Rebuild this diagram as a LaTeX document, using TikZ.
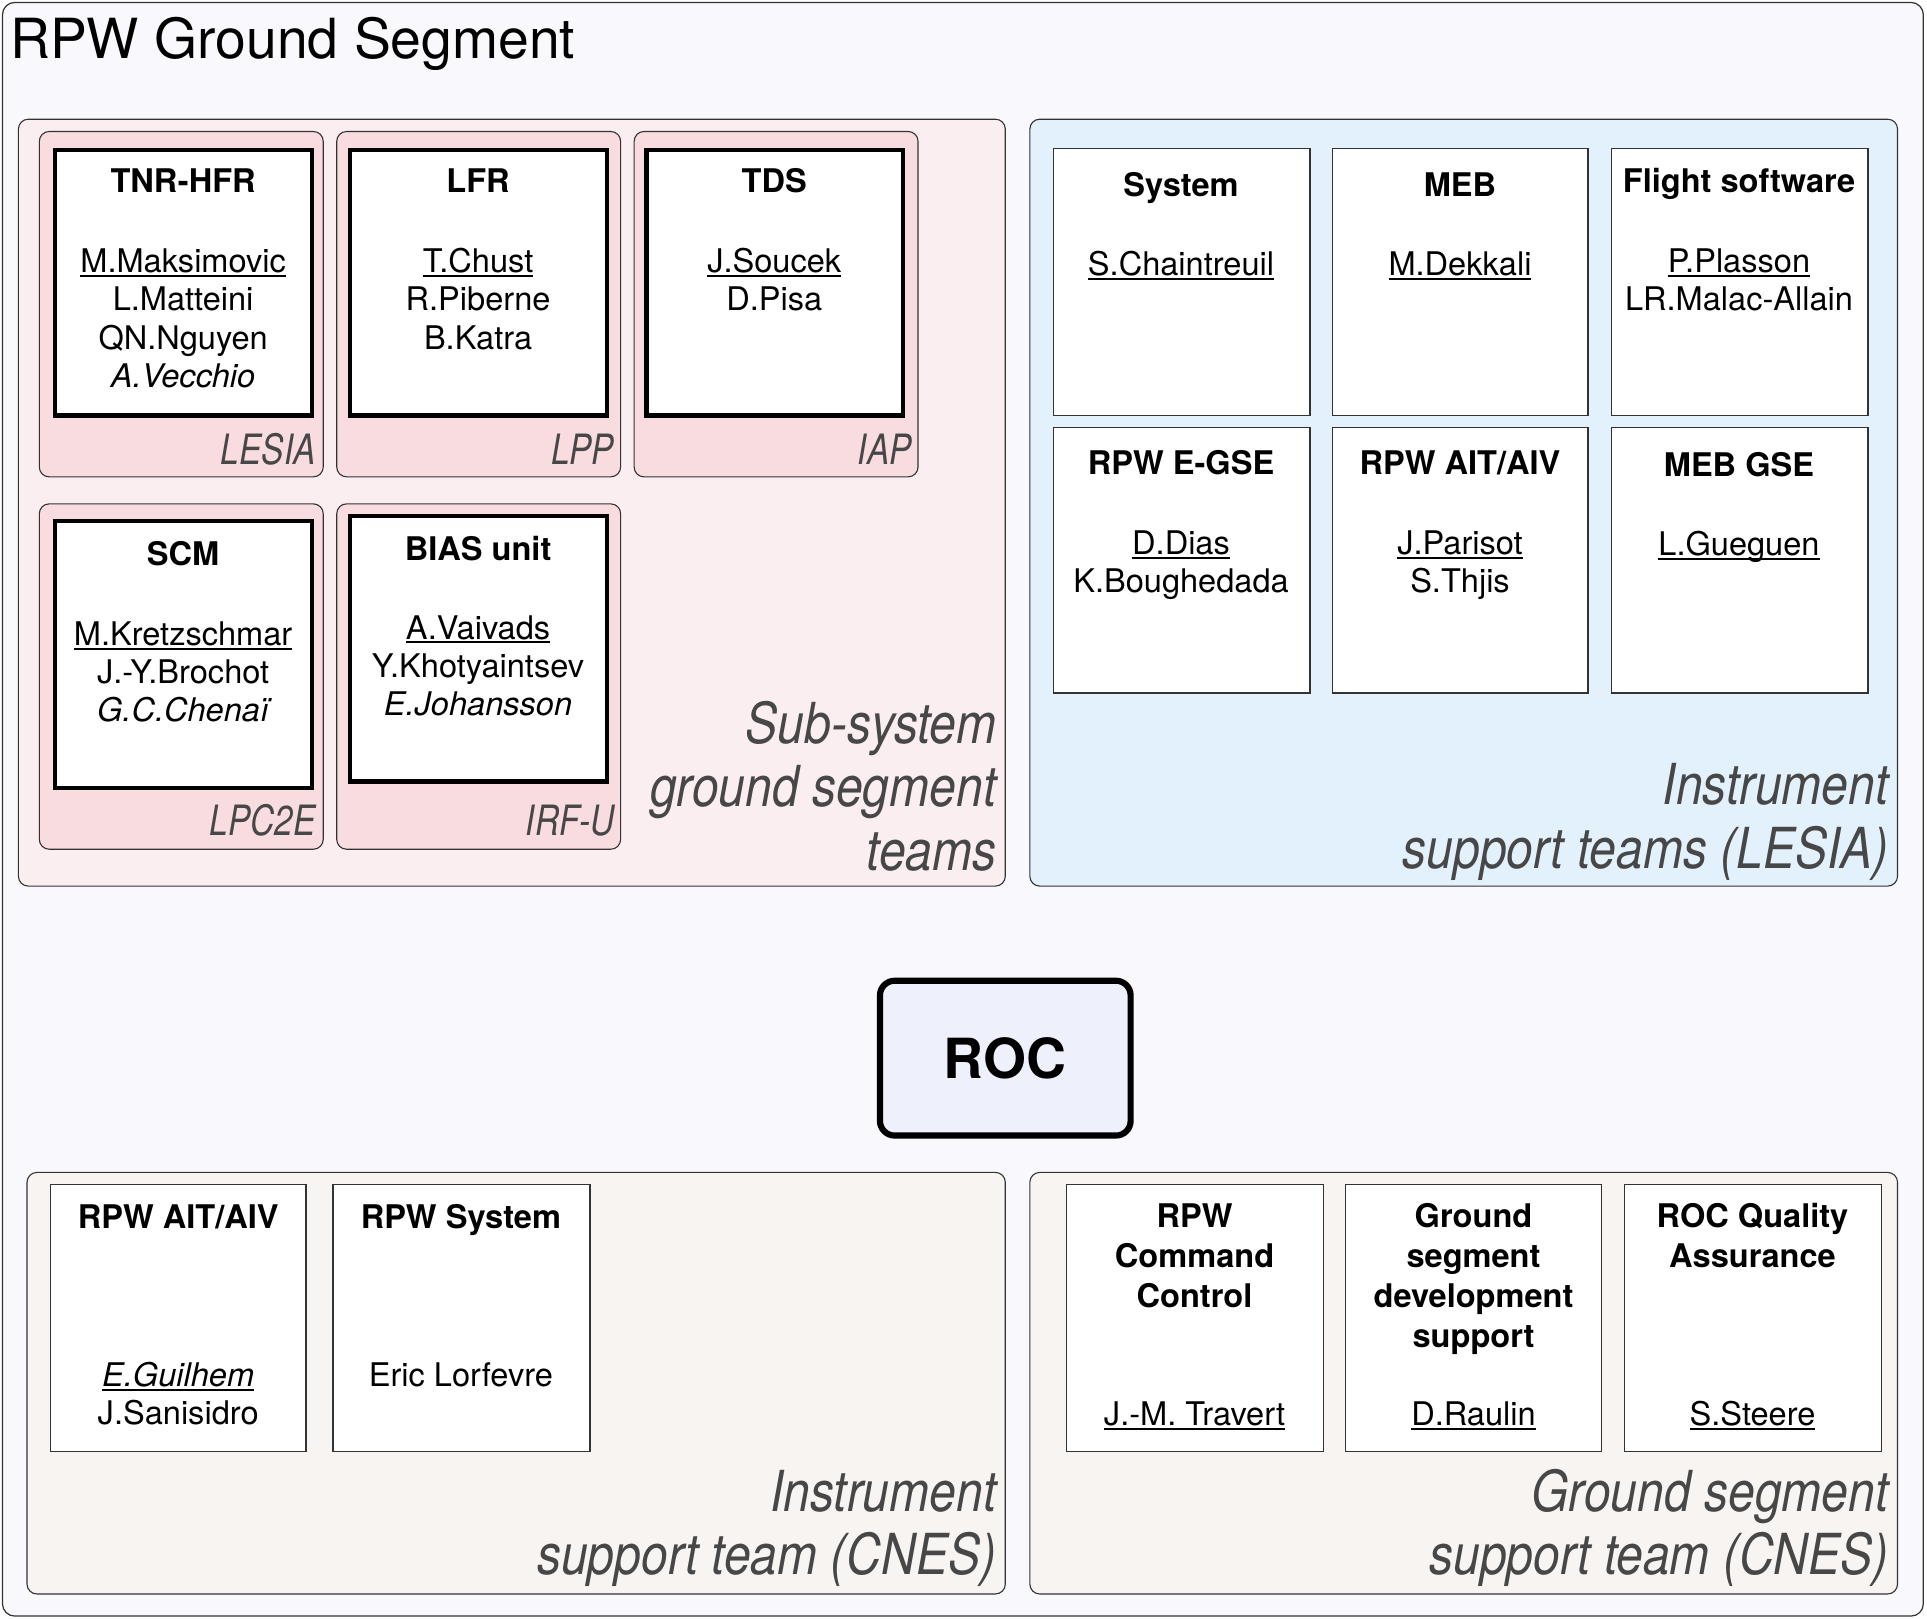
\documentclass[tikz,border=0pt]{standalone}
\usepackage{fontspec}
\setmainfont{TeX Gyre Heros}
\usetikzlibrary{fit}
\definecolor{bgout}{HTML}{F9F9FD}
\definecolor{subgrp}{HTML}{FBEEF1}
\definecolor{labgrp}{HTML}{F9DCDF}
\definecolor{bluegrp}{HTML}{E3F1FD}
\definecolor{beigegrp}{HTML}{F8F4F2}
\definecolor{rocfill}{HTML}{EEF0FC}
\definecolor{edge}{HTML}{333333}
\newcommand\uname[1]{\setbox0\hbox{#1}\rlap{\rule[-3.5pt]{\wd0}{1.6pt}}\box0}
\newcommand\rows[1]{\begin{tabular}[t]{@{}c@{}}#1\end{tabular}}
\newcommand\rrows[1]{\begin{tabular}[t]{@{}r@{}}#1\end{tabular}}
\tikzset{
  outerbox/.style={draw=edge, line width=1pt, fill=bgout, rounded corners=10pt, inner sep=0pt},
  grp/.style={draw=edge, line width=0.9pt, rounded corners=8pt, inner sep=0pt},
  thickbox/.style={draw=black, line width=3.5pt, fill=white, inner sep=0pt},
  thinbox/.style={draw=edge, line width=1.1pt, fill=white, inner sep=0pt},
  btitle/.style={font=\fontsize{26.5}{32.5}\selectfont\bfseries, inner sep=0pt, anchor=base},
  bname/.style={font=\fontsize{26.5}{31}\selectfont, inner sep=0pt, anchor=base},
  lablabel/.style={font=\fontsize{34}{40}\selectfont\itshape, xscale=0.8, inner sep=0pt, anchor=base east, text=black!72},
  biglabel/.style={font=\fontsize{46}{51.5}\selectfont\itshape, xscale=0.85, inner sep=0pt, anchor=base east, text=black!72},
}
\begin{document}
\begin{tikzpicture}[x=1pt, y=-1pt]
\path[use as bounding box] (0,0) rectangle (1568,1317);
% outer frame
\node[outerbox, fit={(2,2) (1565,1315)}] (outer) {};
\node[anchor=base west, font=\fontsize{45}{50}\selectfont, inner sep=0pt] (title) at (8,48) {RPW Ground Segment};

% ---------- Sub-system ground segment teams ----------
\node[grp, fill=subgrp, fit={(15,97) (818,721)}] (subsys) {};
\node[grp, fill=labgrp, fit={(32,107) (263,388)}] (lesia) {};
\node[grp, fill=labgrp, fit={(274,107) (505,388)}] (lpp) {};
\node[grp, fill=labgrp, fit={(516,107) (747,388)}] (iap) {};
\node[grp, fill=labgrp, fit={(32,410) (263,691)}] (lpc2e) {};
\node[grp, fill=labgrp, fit={(274,410) (505,691)}] (irfu) {};

\node[thickbox, fit={(45,122) (254,338)}] (tnr) {};
\node[thickbox, fit={(285,122) (494,338)}] (lfr) {};
\node[thickbox, fit={(526,122) (735,338)}] (tds) {};
\node[thickbox, fit={(45,424) (254,641)}] (scm) {};
\node[thickbox, fit={(285,420) (494,636)}] (bias) {};

\node[btitle] (tnrT) at (149,157) {TNR-HFR};
\node[bname] (tnrN) at (149,222) {\rows{\uname{M.Maksimovic}\\ L.Matteini\\ QN.Nguyen\\ \itshape A.Vecchio}};
\node[btitle] (lfrT) at (389,157) {LFR};
\node[bname] (lfrN) at (389,222) {\rows{\uname{T.Chust}\\ R.Piberne\\ B.Katra}};
\node[btitle] (tdsT) at (630,157) {TDS};
\node[bname] (tdsN) at (630,222) {\rows{\uname{J.Soucek}\\ D.Pisa}};
\node[btitle] (scmT) at (149,460) {SCM};
\node[bname] (scmN) at (149,525) {\rows{\uname{M.Kretzschmar}\\ J.-Y.Brochot\\ \itshape G.C.Chenaï}};
\node[btitle] (biasT) at (389,456) {BIAS unit};
\node[bname] (biasN) at (389,520) {\rows{\uname{A.Vaivads}\\ Y.Khotyaintsev\\ \itshape E.Johansson}};

\node[lablabel] (lesiaL) at (257,378) {LESIA};
\node[lablabel] (lppL) at (500,378) {LPP};
\node[lablabel] (iapL) at (742,378) {IAP};
\node[lablabel] (lpc2eL) at (257,680) {LPC2E};
\node[lablabel] (irfuL) at (500,680) {IRF-U};

\node[biglabel] (subsysL) at (811,605) {\rrows{Sub-system\\ ground segment\\ teams}};

% ---------- Instrument support teams (LESIA) ----------
\node[grp, fill=bluegrp, fit={(838,97) (1544,721)}] (lesiagrp) {};
\node[thinbox, fit={(857,121) (1066,338)}] (sys) {};
\node[thinbox, fit={(1084,121) (1292,338)}] (meb) {};
\node[thinbox, fit={(1311,121) (1520,338)}] (fsw) {};
\node[thinbox, fit={(857,348) (1066,564)}] (egse) {};
\node[thinbox, fit={(1084,348) (1292,564)}] (ait) {};
\node[thinbox, fit={(1311,348) (1520,564)}] (mebgse) {};

\node[btitle] (sysT) at (961,160) {System};
\node[bname] (sysN) at (961,224) {\uname{S.Chaintreuil}};
\node[btitle] (mebT) at (1188,160) {MEB};
\node[bname] (mebN) at (1188,224) {\uname{M.Dekkali}};
\node[btitle] (fswT) at (1415,157) {Flight software};
\node[bname] (fswN) at (1415,222) {\rows{\uname{P.Plasson}\\ LR.Malac-Allain}};
\node[btitle] (egseT) at (961,386) {RPW E-GSE};
\node[bname] (egseN) at (961,451) {\rows{\uname{D.Dias}\\ K.Boughedada}};
\node[btitle] (aitT) at (1188,386) {RPW AIT/AIV};
\node[bname] (aitN) at (1188,451) {\rows{\uname{J.Parisot}\\ S.Thjis}};
\node[btitle] (mebgseT) at (1415,388) {MEB GSE};
\node[bname] (mebgseN) at (1415,452) {\uname{L.Gueguen}};

\node[biglabel] (lesiagrpL) at (1537,655) {\rrows{Instrument\\ support teams (LESIA)}};

% ---------- ROC ----------
\node[draw=black, line width=5pt, fill=rocfill, rounded corners=12pt, inner sep=0pt,
      minimum width=204pt, minimum height=126pt,
      font=\fontsize{45}{50}\selectfont\bfseries] (roc) at (818,861) {ROC};

% ---------- Instrument support team (CNES) ----------
\node[grp, fill=beigegrp, fit={(22,954) (818,1297)}] (cnesinst) {};
\node[thinbox, fit={(41,964) (249,1181)}] (cait) {};
\node[thinbox, fit={(271,964) (480,1181)}] (csys) {};
\node[btitle] (caitT) at (145,1000) {RPW AIT/AIV};
\node[bname] (caitN) at (145,1128) {\rows{\uname{\itshape E.Guilhem}\\ J.Sanisidro}};
\node[btitle] (csysT) at (375,1000) {RPW System};
\node[bname] (csysN) at (375,1128) {Eric Lorfevre};
\node[biglabel] (cnesinstL) at (811,1230) {\rrows{Instrument\\ support team (CNES)}};

% ---------- Ground segment support team (CNES) ----------
\node[grp, fill=beigegrp, fit={(838,954) (1544,1297)}] (cnesgs) {};
\node[thinbox, fit={(868,964) (1077,1181)}] (cmd) {};
\node[thinbox, fit={(1095,964) (1303,1181)}] (gsd) {};
\node[thinbox, fit={(1322,964) (1531,1181)}] (qa) {};
\node[btitle] (cmdT) at (972,999) {\rows{RPW\\ Command\\ Control}};
\node[bname] (cmdN) at (972,1160) {\uname{J.-M. Travert}};
\node[btitle] (gsdT) at (1199,999) {\rows{Ground\\ segment\\ development\\ support}};
\node[bname] (gsdN) at (1199,1160) {\uname{D.Raulin}};
\node[btitle] (qaT) at (1426,999) {\rows{ROC Quality\\ Assurance}};
\node[bname] (qaN) at (1426,1160) {\uname{S.Steere}};
\node[biglabel] (cnesgsL) at (1537,1230) {\rrows{Ground segment\\ support team (CNES)}};
\end{tikzpicture}
\end{document}
